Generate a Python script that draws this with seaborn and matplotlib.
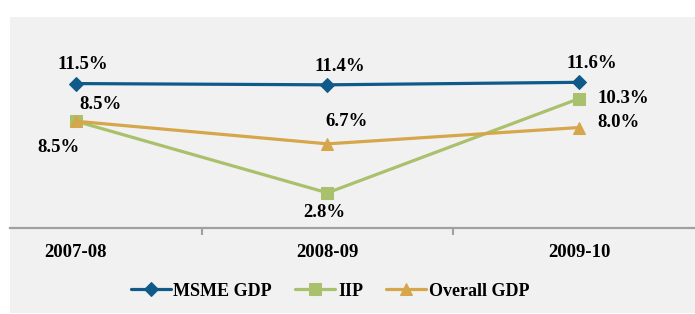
import pandas as pd
import seaborn as sns
import matplotlib.pyplot as plt
from matplotlib.patches import Rectangle
from matplotlib.ticker import FixedLocator

# Dados
anos = ["2007-08", "2008-09", "2009-10"]
msme_gdp = [11.5, 11.4, 11.6]
iip = [8.5, 2.8, 10.3]
overall_gdp = [8.5, 6.7, 8.0]

series = ["MSME GDP", "IIP", "Overall GDP"]
cores = ["#0f5a88", "#a9c16c", "#d6a64a"]
marcadores = ["D", "s", "^"]
tamanhos = [7, 9, 9]

df = pd.DataFrame({"ano": anos * 3,
                   "valor": msme_gdp + iip + overall_gdp,
                   "serie": [s for s in series for _ in anos]})

sns.set_style("white")
plt.rcParams["font.family"] = ["Liberation Serif", "DejaVu Serif"]
plt.rcParams["font.weight"] = "bold"
plt.rcParams["text.color"] = "black"
plt.rcParams["xtick.color"] = "black"

fig = plt.figure(figsize=(6.95, 3.14), dpi=100)
fig.patches.append(Rectangle((10 / 695, 1 / 314), 1, (313 - 17) / 314, transform=fig.transFigure,
                             facecolor="#f1f1f1", edgecolor="none", zorder=-10))
ax = fig.add_axes([10 / 695, 86 / 314, 685 / 695, 211 / 314])
ax.set_facecolor("none")
ax.patch.set_alpha(0)

for s, c, m, ms in zip(series, cores, marcadores, tamanhos):
    sns.lineplot(data=df[df.serie == s], x="ano", y="valor", color=c, marker=m,
                 markersize=ms, markeredgecolor=c, linewidth=2.3, ax=ax, label=s)

# Rótulos (offset em pixels)
rotulos = [
    (0, msme_gdp[0], (7, 19), "center"),
    (1, msme_gdp[1], (12, 18), "center"),
    (2, msme_gdp[2], (13, 19), "center"),
    (0, overall_gdp[0], (25, 17), "center"),
    (0, iip[0], (-17, -26), "center"),
    (1, overall_gdp[1], (19, 22), "center"),
    (1, iip[1], (-3, -20), "center"),
    (2, iip[2], (18, 0), "left"),
    (2, overall_gdp[2], (18, 5), "left"),
]
for x, v, off, ha in rotulos:
    ax.annotate(f"{v:.1f}%", (x, v), xytext=off, textcoords="offset pixels",
                ha=ha, va="center", fontsize=13.5, fontweight="bold")

ax.set_xlim(-0.262, 2.461)
ax.set_ylim(0, 16.8)
ax.set_yticks([])
ax.set_xlabel("")
ax.set_ylabel("")
for lado in ["top", "left", "right"]:
    ax.spines[lado].set_visible(False)
ax.spines["bottom"].set_color("#a0a0a0")
ax.spines["bottom"].set_linewidth(1.6)
ax.xaxis.set_minor_locator(FixedLocator([0.5, 1.5]))
ax.tick_params(axis="x", which="major", bottom=False, pad=8, labelsize=13.5)
ax.tick_params(axis="x", which="minor", bottom=True, length=5, width=1.5,
               color="#a0a0a0", direction="out")
for t in ax.get_xticklabels():
    t.set_fontweight("bold")

ax.get_legend().remove()
h, l = ax.get_legend_handles_labels()
fig.legend(h, l, loc="center", bbox_to_anchor=(0.475, 1 - 291 / 314), ncol=3, frameon=False,
           handlelength=2.2, handletextpad=0.15, columnspacing=1.3,
           prop={"weight": "bold", "size": 13})

plt.savefig("out.png", dpi=100, facecolor="white")
